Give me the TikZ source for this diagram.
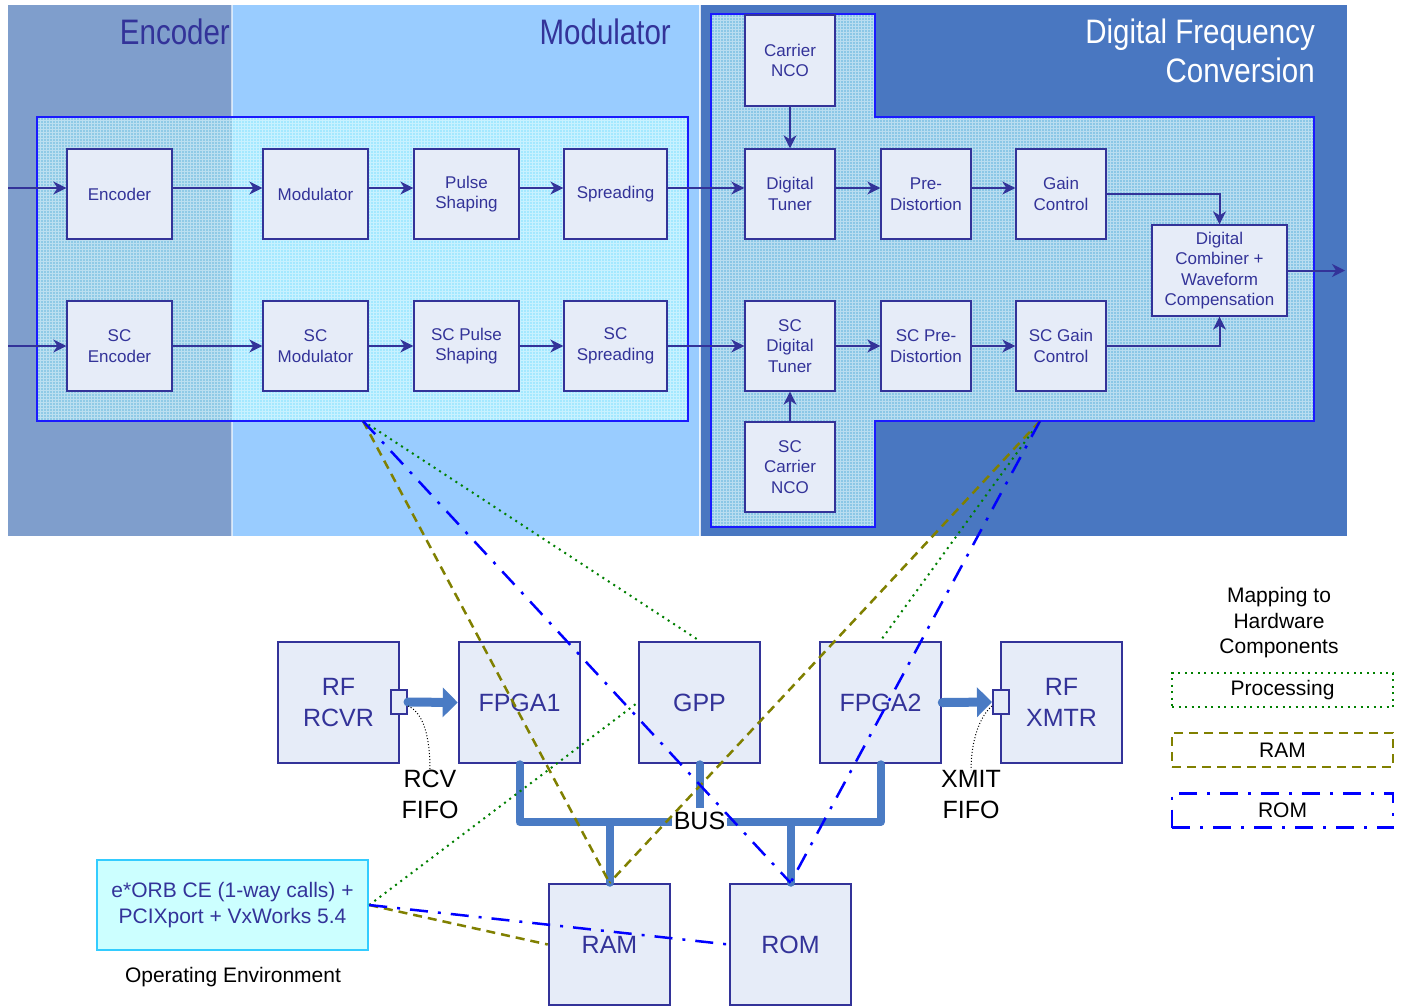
\documentclass[tikz,border=0pt]{standalone}
\usepackage{fontspec}
\setmainfont{Liberation Sans}
\usepackage{graphicx}
\usetikzlibrary{arrows.meta}
\definecolor{encbg}{HTML}{7F9ECC}
\definecolor{modbg}{HTML}{99CCFF}
\definecolor{dfcbg}{HTML}{4977C1}
\definecolor{boxfill}{HTML}{E6ECF8}
\definecolor{navy}{HTML}{333399}
\definecolor{busblue}{HTML}{4A7BC4}
\definecolor{panelborder}{HTML}{1A1AFF}
\definecolor{procgreen}{HTML}{008000}
\definecolor{ramolive}{HTML}{808000}
\definecolor{romblue}{HTML}{0000FF}
\definecolor{oefill}{HTML}{CCFFFF}
\definecolor{oeborder}{HTML}{33CCFF}
\definecolor{pnlA}{HTML}{8FCAE6}
\definecolor{pnlB}{HTML}{A4E8FF}
\definecolor{pnlC}{HTML}{8BC7E6}
\begin{document}
\begin{tikzpicture}[x=1pt,y=-1pt,
  blk/.style={draw=navy, fill=boxfill, line width=1.3pt, text=navy, align=center,
    font=\fontsize{17}{20.5}\selectfont, minimum width=105pt, minimum height=90pt, inner sep=0pt},
  nblk/.style={blk, minimum width=90pt},
  hw/.style={draw=navy, fill=boxfill, line width=2.5pt, text=navy, align=center,
    font=\fontsize{25}{31}\selectfont, minimum width=121pt, minimum height=121pt, inner sep=0pt},
  port/.style={draw=navy, fill=boxfill, line width=2pt, minimum width=16pt, minimum height=24pt, inner sep=0pt},
  arr/.style={draw=navy, line width=2pt, -{Stealth[length=13pt,width=13pt,inset=4pt]}},
  fatarr/.style={draw=busblue, line width=9pt, line cap=round, -{Triangle[length=15pt,width=29pt]}},
  bus/.style={draw=busblue, line width=8pt, line cap=round, line join=round},
  proc/.style={draw=procgreen, line width=2pt, dash pattern=on 2pt off 4.5pt},
  ramm/.style={draw=ramolive, line width=2.5pt, dash pattern=on 9pt off 6pt},
  romm/.style={draw=romblue, line width=2.5pt, dash pattern=on 18pt off 10pt on 3pt off 10pt},
  gridl/.style={draw=white, line width=0.6pt, opacity=0.4},
  fifo/.style={draw=black, line width=1pt, dotted},
  ttl/.style={font=\fontsize{29.5}{35}\selectfont, inner sep=0pt},
  lbl/.style={font=\fontsize{25}{31}\selectfont, align=center, inner sep=0pt},
  leg/.style={minimum width=221pt, minimum height=34pt, inner sep=0pt, font=\fontsize{21}{25}\selectfont}
]
\clip (0,0) rectangle (1402,1005);
\fill[white] (0,0) rectangle (1402,1005);
% region backgrounds
\fill[encbg] (8,5) rectangle (232,536);
\fill[modbg] (232,5) rectangle (700,536);
\fill[dfcbg] (700,5) rectangle (1347,536);
\draw[white, opacity=0.6, line width=1.5pt] (232,5) -- (232,536);
\draw[white, opacity=0.8, line width=2pt] (700,5) -- (700,536);
% left panel
\fill[pnlA] (37,117) rectangle (232,421);
\fill[pnlB] (232,117) rectangle (688,421);
\draw[gridl] \foreach \i in {40,43,...,686} {(\i,117) -- (\i,421)}
             \foreach \j in {120,123,...,420} {(37,\j) -- (688,\j)};
\draw[panelborder, line width=1.6pt] (37,117) rectangle (688,421);
% right panel
\fill[pnlC] (711,14) -- (875,14) -- (875,117) -- (1314,117) -- (1314,421) -- (875,421) -- (875,527) -- (711,527) -- cycle;
\begin{scope}
\clip (711,14) -- (875,14) -- (875,117) -- (1314,117) -- (1314,421) -- (875,421) -- (875,527) -- (711,527) -- cycle;
\draw[gridl] \foreach \i in {714,717,...,1313} {(\i,14) -- (\i,527)}
             \foreach \j in {17,20,...,526} {(711,\j) -- (1314,\j)};
\end{scope}
\draw[panelborder, line width=1.6pt] (711,14) -- (875,14) -- (875,117) -- (1314,117) -- (1314,421) -- (875,421) -- (875,527) -- (711,527) -- cycle;
% titles
\node[ttl, text=navy, anchor=east] (tEnc) at (230,32) {\scalebox{1}[1.2]{Encoder}};
\node[ttl, text=navy, anchor=east] (tMod) at (671,32) {\scalebox{1}[1.2]{Modulator}};
\node[ttl, text=white, anchor=east] (tDfcA) at (1315,35) {\scalebox{1}[1.15]{Digital Frequency}};
\node[ttl, text=white, anchor=east] (tDfcB) at (1315,70) {\scalebox{1}[1.15]{Conversion}};
% row 1
\node[blk] (enc) at (119.5,194) {Encoder};
\node[blk] (mod) at (315.5,194) {Modulator};
\node[blk] (pulse) at (466.5,194) {Pulse\\Shaping};
\node[blk, minimum width=103pt] (spr) at (615.5,194) {Spreading};
\node[nblk] (dt) at (790,194) {Digital\\Tuner};
\node[nblk] (pre) at (926,194) {Pre-\\Distortion};
\node[nblk] (gain) at (1061,194) {Gain\\Control};
% row 2
\node[blk] (scenc) at (119.5,346) {SC\\Encoder};
\node[blk] (scmod) at (315.5,346) {SC\\Modulator};
\node[blk] (scpulse) at (466.5,346) {SC Pulse\\Shaping};
\node[blk, minimum width=103pt] (scspr) at (615.5,346) {SC\\Spreading};
\node[nblk] (scdt) at (790,346) {SC\\Digital\\Tuner};
\node[nblk] (scpre) at (926,346) {SC Pre-\\Distortion};
\node[nblk] (scgain) at (1061,346) {SC Gain\\Control};
% NCOs and combiner
\node[nblk, minimum height=91pt] (nco) at (790,60.5) {Carrier\\NCO};
\node[nblk] (scnco) at (790,467) {SC\\Carrier\\NCO};
\node[blk, minimum width=135pt, minimum height=91pt] (comb) at (1219.5,270.5) {Digital\\Combiner +\\Waveform\\Compensation};
% arrows row 1
\coordinate (in1) at (8,188);
\coordinate (in2) at (8,346);
\coordinate (out) at (1345,270.5);
\draw[arr] (in1) -- ([yshift=6pt]enc.west);
\draw[arr] ([yshift=6pt]enc.east) -- ([yshift=6pt]mod.west);
\draw[arr] ([yshift=6pt]mod.east) -- ([yshift=6pt]pulse.west);
\draw[arr] ([yshift=6pt]pulse.east) -- ([yshift=6pt]spr.west);
\draw[arr] ([yshift=6pt]spr.east) -- ([yshift=6pt]dt.west);
\draw[arr] ([yshift=6pt]dt.east) -- ([yshift=6pt]pre.west);
\draw[arr] ([yshift=6pt]pre.east) -- ([yshift=6pt]gain.west);
\draw[arr] (gain.east) -| (comb.north);
% arrows row 2
\draw[arr] (in2) -- (scenc.west);
\draw[arr] (scenc.east) -- (scmod.west);
\draw[arr] (scmod.east) -- (scpulse.west);
\draw[arr] (scpulse.east) -- (scspr.west);
\draw[arr] (scspr.east) -- (scdt.west);
\draw[arr] (scdt.east) -- (scpre.west);
\draw[arr] (scpre.east) -- (scgain.west);
\draw[arr] (scgain.east) -| (comb.south);
\draw[arr] (nco.south) -- (dt.north);
\draw[arr] (scnco.north) -- (scdt.south);
\draw[arr] (comb.east) -- (out);
% hardware
\node[hw] (rcvr) at (338.5,702.5) {RF\\RCVR};
\node[hw] (fpga1) at (519.5,702.5) {FPGA1};
\node[hw] (gpp) at (699.5,702.5) {GPP};
\node[hw] (fpga2) at (880.5,702.5) {FPGA2};
\node[hw] (xmtr) at (1061.5,702.5) {RF\\XMTR};
\node[hw] (ram) at (609.5,944.5) {RAM};
\node[hw] (rom) at (790.5,944.5) {ROM};
\node[port] (rxport) at (399,702) {};
\node[port] (txport) at (1001,702) {};
\draw[fatarr] (rxport.east) -- (fpga1.west);
\draw[fatarr] (fpga2.east) -- (txport.west);
% FIFO labels
\node[lbl] (rcvl) at (430,794.5) {RCV\\FIFO};
\node[lbl] (xmitl) at (971,794.5) {XMIT\\FIFO};
\draw[fifo] ([yshift=-4pt]rxport.east) .. controls (424,713) and (430,738) .. (rcvl.north);
\draw[fifo] ([yshift=-4pt]txport.west) .. controls (980,716) and (971,740) .. (xmitl.north);
% bus
\coordinate (busL) at (519.5,822);
\coordinate (busR) at (880.5,822);
\draw[bus] (fpga1.south) -- (busL) -- (busR) -- (fpga2.south);
\draw[bus] (gpp.south) -- (gpp.south |- busL);
\draw[bus] (ram.north) -- (ram.north |- busL);
\draw[bus] (rom.north) -- (rom.north |- busL);
\node[lbl, fill=white, inner xsep=1.5pt, inner ysep=4pt] (buslbl) at (699.5,821) {BUS};
% operating environment
\node[draw=oeborder, fill=oefill, line width=2.5pt, minimum width=271pt, minimum height=90pt,
  text=navy, align=center, inner sep=0pt, font=\fontsize{21}{26}\selectfont] (oe) at (232.5,905)
  {e*ORB CE (1-way calls) +\\PCIXport + VxWorks 5.4};
\node[font=\fontsize{21}{25}\selectfont, inner sep=0pt] (oelab) at (233,977) {Operating Environment};
% mapping lines
\coordinate (mapL) at (363,421);
\coordinate (mapR) at (1040,421);
\draw[proc] (mapL) -- (gpp.north);
\draw[proc] (mapR) -- (fpga2.north);
\draw[proc] (oe.east) -- (gpp.west);
\draw[ramm] (mapL) -- (ram.north);
\draw[ramm] (mapR) -- (ram.north);
\draw[ramm] (oe.east) -- (ram.west);
\draw[romm] (mapL) -- (rom.north);
\draw[romm] (mapR) -- (rom.north);
\draw[romm] (oe.east) -- (rom.west);
% legend
\node[font=\fontsize{21}{25.5}\selectfont, align=center, inner sep=0pt] (legt) at (1279,623) {Mapping to\\Hardware\\Components};
\node[leg, proc] (lgp) at (1282.5,690) {Processing};
\node[leg, ramm] (lgr) at (1282.5,750) {RAM};
\node[leg, romm] (lgo) at (1282.5,810.5) {ROM};
\end{tikzpicture}
\end{document}
